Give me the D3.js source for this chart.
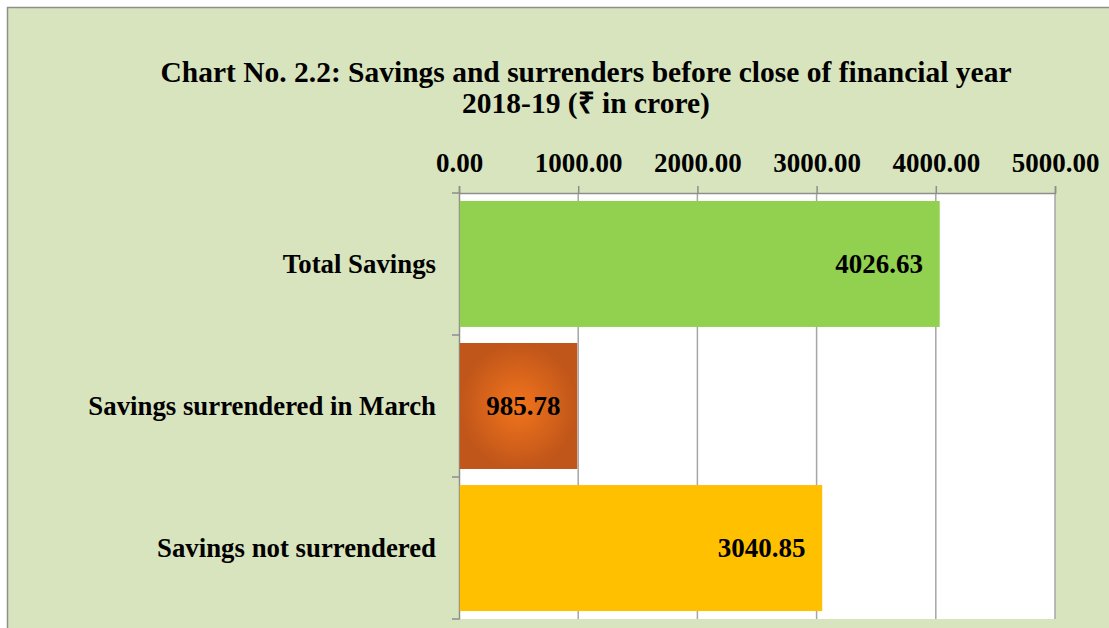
<!DOCTYPE html>
<html>
<head>
<meta charset="utf-8">
<script src="https://cdn.jsdelivr.net/npm/d3@7"></script>
<style>
  body { margin: 0; background: #ffffff; }
  svg text { font-family: "Liberation Serif", "Times New Roman", serif; font-weight: bold; fill: #000; }
</style>
</head>
<body>
<div id="chart"></div>
<script>
// chart data
var categories = ["Total Savings", "Savings surrendered in March", "Savings not surrendered"];
var values = [4026.63, 985.78, 3040.85];
var barColors = ["#92D050", "url(#orangeGlow)", "#FFC000"];
var tickValues = [0, 1000, 2000, 3000, 4000, 5000];
var titleLines = ["Chart No. 2.2: Savings and surrenders before close of financial year",
                  "2018-19 (\u20B9 in crore)"];

// size of the page and the plot
var margin = {top: 193, bottom: 9, left: 459, right: 54},
  width = 1109 - margin.left - margin.right,
  height = 628 - margin.top - margin.bottom;

var svg = d3.select("#chart")
    .append("svg")
    .attr("width", 1109)
    .attr("height", 628);

// radial fill for the middle bar
var grad = svg.append("defs").append("radialGradient")
    .attr("id", "orangeGlow");
grad.append("stop").attr("offset", "0%").attr("stop-color", "#F2741C");
grad.append("stop").attr("offset", "100%").attr("stop-color", "#C0561A");

// chart area background, cut off at right and bottom like the original
svg.append("rect")
    .attr("x", 7.5)
    .attr("y", 7.5)
    .attr("width", 1120)
    .attr("height", 640)
    .attr("fill", "#D8E4BD")
    .attr("stroke", "#8E8E8E")
    .attr("stroke-width", 1.5);

// title
svg.selectAll(".title")
    .data(titleLines)
    .enter().append("text")
    .attr("class", "title")
    .attr("x", 586)
    .attr("y", function(d, i) { return 82 + i * 31; })
    .attr("text-anchor", "middle")
    .style("font-size", "29.5px")
    .text(function(d) { return d; });

var g = svg.append("g")
    .attr("transform", "translate(" + margin.left + "," + margin.top + ")");

// scales
var x = d3.scaleLinear()
    .domain([0, 5000])
    .range([0, width]);

var y = d3.scaleBand()
    .domain(categories)
    .range([0, height])
    .paddingInner(0.113)
    .paddingOuter(0.056);

// plot area
g.append("rect")
    .attr("width", width)
    .attr("height", height)
    .attr("fill", "#ffffff");

// vertical gridlines
g.selectAll(".grid")
    .data(tickValues.slice(1))
    .enter().append("line")
    .attr("class", "grid")
    .attr("x1", function(d) { return x(d); })
    .attr("x2", function(d) { return x(d); })
    .attr("y1", 0)
    .attr("y2", height)
    .attr("stroke", "#A6A6A6")
    .attr("stroke-width", 1.5);

// top axis
var xAxis = g.append("g")
    .attr("class", "x axis")
    .call(d3.axisTop(x)
      .tickValues(tickValues)
      .tickSize(7)
      .tickPadding(14)
      .tickFormat(d3.format(".2f")));

xAxis.selectAll("text").style("font-size", "27px");

// left axis, ticks between the categories
var yAxis = g.append("g")
    .attr("class", "y axis")
    .call(d3.axisLeft(y).tickSize(0).tickPadding(23));

yAxis.selectAll("text").style("font-size", "26.8px");

g.selectAll(".ytick")
    .data(d3.range(categories.length + 1))
    .enter().append("line")
    .attr("class", "ytick")
    .attr("x1", -7)
    .attr("x2", 0)
    .attr("y1", function(d) { return d * height / categories.length; })
    .attr("y2", function(d) { return d * height / categories.length; })
    .attr("stroke", "#8E8E8E")
    .attr("stroke-width", 1.5);

// axis line colours
svg.selectAll(".axis path, .axis line")
    .attr("stroke", "#8E8E8E")
    .attr("stroke-width", 1.5);

// bars
g.selectAll(".bar")
    .data(values)
    .enter().append("rect")
    .attr("class", "bar")
    .attr("x", x(0) + 0.75)
    .attr("y", function(d, i) { return y(categories[i]); })
    .attr("width", function(d) { return x(d) - x(0); })
    .attr("height", y.bandwidth())
    .attr("fill", function(d, i) { return barColors[i]; });

// value labels
g.selectAll(".value")
    .data(values)
    .enter().append("text")
    .attr("class", "value")
    .attr("x", function(d) { return x(d) - 16; })
    .attr("y", function(d, i) { return y(categories[i]) + y.bandwidth() / 2; })
    .attr("dy", "0.35em")
    .attr("text-anchor", "end")
    .style("font-size", "27px")
    .text(function(d) { return d.toFixed(2); });
</script>
</body>
</html>
